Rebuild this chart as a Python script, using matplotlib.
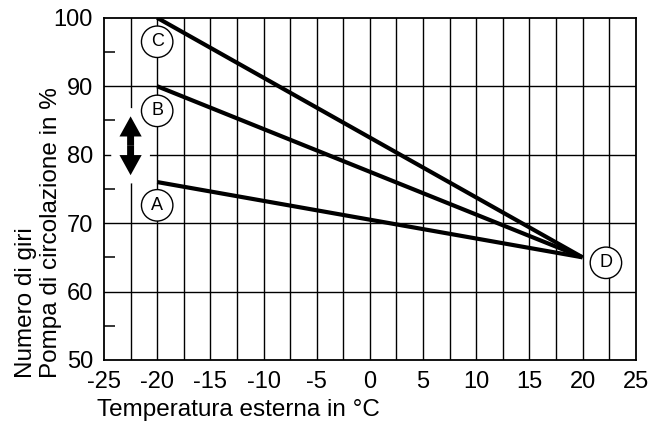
import matplotlib.pyplot as plt
import numpy as np

plt.rcParams['font.family'] = ['Liberation Sans', 'DejaVu Sans']

# curve end points (outside temp in C, pump speed in %)
x_start = -20
x_end = 20
y_end = 65
curve_names = ['A', 'B', 'C']
curve_start = [76, 90, 100]
# circled label positions
label_names = ['A', 'B', 'C', 'D']
label_x = [-20, -20, -20, 22.2]
label_y = [72.6, 86.4, 96.5, 64.2]
# double arrow (adjust range)
arrow_x = -22.5
arrow_y = [77.0, 85.6]

xticks = [-25, -20, -15, -10, -5, 0, 5, 10, 15, 20, 25]
yticks = [50, 60, 70, 80, 90, 100]

fig = plt.figure(figsize=(6.5, 4.24), dpi=100)
ax = fig.add_axes([0.16, 0.151, 0.818, 0.807])
ax.set_xlim(-25, 25)
ax.set_ylim(50, 100)

for x in np.arange(-22.5, 25, 2.5):
    ax.axvline(x, color='black', lw=1.0, zorder=1)
for y in [60, 70, 80, 90]:
    ax.axhline(y, color='black', lw=1.0, zorder=1)

for s in ax.spines.values():
    s.set_linewidth(1.3)

for name, ys in zip(curve_names, curve_start):
    ax.plot([x_start, x_end], [ys, y_end], color='black', lw=3,
            solid_capstyle='butt', zorder=3)

for name, lx, ly in zip(label_names, label_x, label_y):
    ax.text(lx, ly, name, ha='center', va='center', fontsize=13, zorder=5,
            bbox=dict(boxstyle='circle,pad=0.4', fc='white', ec='black', lw=1))

# double arrow: two halves from the middle, white outline
mid = (arrow_y[0] + arrow_y[1]) / 2
style = 'simple,head_length=1.45,head_width=1.6,tail_width=0.5'
for end in arrow_y:
    ax.annotate('', xy=(arrow_x, end), xytext=(arrow_x, mid),
                arrowprops=dict(arrowstyle=style, fc='white', ec='white', lw=12,
                                shrinkA=0, shrinkB=0, mutation_scale=10),
                zorder=4)
for end in arrow_y:
    ax.annotate('', xy=(arrow_x, end), xytext=(arrow_x, mid),
                arrowprops=dict(arrowstyle=style, fc='black', ec='none',
                                shrinkA=0, shrinkB=0, mutation_scale=10),
                zorder=4)

ax.set_xticks(xticks)
ax.set_xticklabels([str(v) for v in xticks])
ax.set_yticks(yticks)
ax.set_yticklabels([str(v) for v in yticks])
ax.set_yticks([55, 65, 75, 85, 95], minor=True)
ax.tick_params(axis='x', length=0, labelsize=17, pad=8)
ax.tick_params(axis='y', which='major', length=0, labelsize=17, pad=8)
ax.tick_params(axis='y', which='minor', direction='in', length=8, width=1.1)

fig.text(0.023, 0.108, 'Numero di giri\nPompa di circolazione in %', rotation=90,
         ha='left', va='bottom', fontsize=17.5, multialignment='left', linespacing=1.15)
fig.text(0.149, 0.033, 'Temperatura esterna in °C', ha='left', va='center', fontsize=17.5)

fig.savefig('out.png', dpi=100)
